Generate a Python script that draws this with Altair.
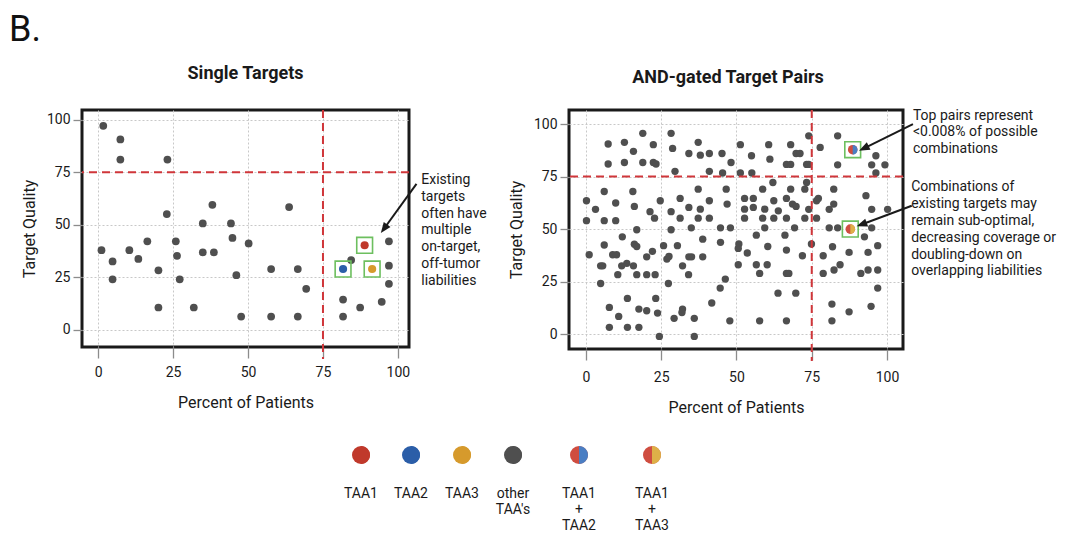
import math
import altair as alt
import pandas as pd

# ---------------- data ----------------
left_x = [1.7, 7.4, 7.4, 23.1, 1.1, 4.8, 4.8, 10.4, 13.4, 16.4, 20.1, 20.1, 22.9, 25.9,
          26.3, 27.2, 31.9, 34.9, 34.9, 38.1, 38.6, 44.3, 44.8, 46.1, 47.7, 50.2, 57.7,
          57.7, 63.7, 66.6, 66.6, 69.4, 81.7, 81.7, 84.4, 87.4, 94.6, 97.0, 97.0, 97.0]
left_y = [97.1, 90.6, 81.0, 81.0, 37.9, 32.5, 24.0, 37.9, 33.7, 42.1, 28.3, 10.6, 55.1, 42.1,
          35.2, 24.0, 10.6, 50.6, 36.8, 59.5, 36.8, 50.6, 43.7, 26.0, 6.3, 41.1, 28.9,
          6.3, 58.4, 28.9, 6.3, 19.5, 14.4, 6.3, 33.2, 10.6, 13.3, 42.1, 30.5, 21.9]

single_names = ["TAA1", "TAA2", "TAA3"]
single_x = [88.9, 81.7, 91.4]
single_y = [40.2, 28.9, 28.9]

right_x = [
    # quality above 75
    7.4, 7.4, 12.8, 12.8, 15.8, 18.9, 18.9, 22.4, 22.4, 23.3, 28.3, 28.8, 29.6, 34.2, 37.3,
    38.0, 41.0, 41.0, 45.2, 45.4, 48.2, 51.3, 51.3, 55.0, 55.1, 60.7, 61.1, 66.6, 68.0, 68.0,
    69.8, 71.1, 73.3, 74.0, 74.0, 77.8, 83.6, 83.6, 94.9, 96.3, 96.3, 99.3,
    # quality 50-75
    0.2, 0.2, 3.2, 6.1, 6.1, 9.9, 9.9, 15.6, 16.1, 16.9, 21.3, 22.8, 24.7, 28.3, 28.3, 31.3,
    31.3, 34.2, 35.0, 37.3, 38.0, 37.3, 41.0, 41.0, 44.7, 46.6, 46.9, 48.0, 52.7, 52.7, 52.7,
    55.6, 55.6, 58.7, 58.7, 59.4, 59.4, 62.1, 62.4, 62.4, 63.9, 66.6, 66.6, 68.0, 68.6, 69.8,
    69.3, 72.7, 73.3, 74.0, 72.7, 76.6, 77.2, 76.6, 82.3, 82.3, 80.8, 80.8, 83.6, 93.0, 94.9,
    94.9, 100.2,
    # quality 20-50
    6.1, 1.1, 4.9, 5.6, 4.9, 8.9, 10.2, 10.6, 11.9, 13.6, 15.8, 12.1, 16.1, 16.9, 16.9, 20.2,
    22.1, 20.2, 23.0, 25.8, 26.9, 27.6, 27.4, 30.4, 32.1, 34.1, 34.2, 35.1, 38.8, 38.8, 44.7,
    46.3, 44.6, 50.8, 50.6, 50.6, 53.6, 56.6, 56.6, 57.7, 60.4, 60.2, 66.1, 66.6, 66.6, 67.4,
    71.9, 74.9, 78.8, 78.8, 81.9, 82.4, 84.4, 87.4, 91.3, 92.5, 93.7, 93.7, 96.9, 96.9, 96.9,
    # quality below 20
    13.8, 7.8, 10.9, 7.8, 13.8, 17.6, 20.2, 17.6, 23.2, 23.8, 24.4, 29.3, 32.1, 31.9, 36.0,
    36.0, 41.8, 47.8, 57.7, 63.8, 66.6, 69.7, 81.7, 81.7, 87.4, 94.7,
]
right_y = [
    90.5, 81.0, 91.3, 81.7, 87.0, 95.6, 81.7, 90.2, 81.7, 81.0, 95.6, 88.4, 77.5, 86.0, 91.3,
    85.2, 86.0, 77.5, 86.0, 76.7, 81.7, 90.2, 76.7, 84.9, 76.7, 90.2, 83.3, 80.8, 80.8, 90.2,
    86.0, 86.0, 80.8, 94.4, 80.8, 88.9, 94.4, 80.6, 80.6, 84.9, 76.7, 80.6,
    63.5, 54.0, 59.4, 67.9, 54.0, 62.4, 54.0, 67.9, 60.8, 49.7, 58.3, 55.2, 63.5, 58.3, 49.7, 64.6,
    55.2, 60.3, 50.6, 69.0, 59.5, 55.2, 63.5, 55.2, 50.6, 69.0, 61.9, 50.6, 64.6, 59.5, 55.2,
    64.6, 60.3, 69.0, 55.2, 59.5, 50.6, 72.2, 63.5, 55.2, 58.7, 64.6, 55.2, 69.0, 61.9, 60.8,
    50.6, 69.0, 72.2, 59.4, 55.2, 63.5, 64.6, 55.2, 69.0, 61.9, 59.4, 50.6, 50.6, 65.9, 59.4,
    50.6, 59.4,
    42.4, 37.8, 32.5, 32.5, 24.1, 37.8, 37.8, 28.3, 32.5, 33.7, 32.5, 46.3, 42.8, 41.7, 28.3, 36.8,
    39.4, 28.3, 28.3, 42.1, 35.7, 37.0, 24.1, 42.1, 32.5, 28.3, 36.8, 36.8, 45.2, 36.8, 43.7,
    26.2, 21.9, 42.9, 40.8, 33.0, 38.6, 47.1, 33.0, 28.9, 41.7, 33.0, 47.1, 40.0, 28.9, 28.9,
    37.3, 42.9, 37.3, 28.9, 41.6, 30.5, 33.0, 38.9, 28.9, 46.3, 38.9, 30.5, 42.1, 30.5, 21.9,
    17.0, 12.7, 8.4, 3.2, 3.2, 11.9, 11.1, 3.2, 17.0, 10.0, -1.1, 7.5, 11.9, 10.3, 7.5,
    -1.1, 14.8, 6.3, 6.3, 19.5, 6.3, 19.5, 14.3, 6.3, 10.6, 13.2,
]

pair_names = ["TAA1 + TAA2", "TAA1 + TAA3"]
pair_x = [88.6, 87.8]
pair_y = [87.8, 50.0]

legend_labels = ["TAA1", "TAA2", "TAA3", "other\nTAA's", "TAA1\n+\nTAA2", "TAA1\n+\nTAA3"]

THRESHOLD = 75
TICKS = [0, 25, 50, 75, 100]

# ---------------- style ----------------
FONT = "Roboto"
INK = "#1a1a1a"
DOT = "#4f4f4f"
RED_LINE = "#d0363a"
GREEN = "#6dbf5f"
C_TAA1, C_TAA2, C_TAA3 = "#c0392b", "#2b5ea8", "#d69a2c"
C_HALF_RED, C_HALF_BLUE, C_HALF_GOLD = "#cf4d40", "#4a7ec3", "#deb048"
RIGHT_HALF = "M0,-1 A1,1 0 0,1 0,1 Z"
ARROW_HEAD = "M0,0 L0.62,1.6 L-0.62,1.6 Z"

legend_left = [C_TAA1, C_TAA2, C_TAA3, DOT, C_HALF_RED, C_HALF_RED]
legend_right = [C_TAA1, C_TAA2, C_TAA3, DOT, C_HALF_BLUE, C_HALF_GOLD]
legend_slot = [279, 329, 380, 431, 497, 570]


def axis(title, tick_size, label_pad, title_pad):
    return alt.Axis(values=TICKS, title=title, grid=True, gridColor="#c8c8c8",
                    gridDash=[2, 2], gridWidth=1, domain=False, tickColor="#8c8c8c",
                    tickSize=tick_size, tickWidth=1.3, labelFont=FONT, labelFontSize=14,
                    labelColor=INK, labelPadding=label_pad, titleFont=FONT,
                    titleFontSize=16, titleFontWeight="normal", titleColor=INK,
                    titlePadding=title_pad)


def panel(px, py, hx, hy, hcol, pair, xdom, ydom, w, h, title, title_dx, title_dy,
          dot_size, xlab_pad, notes, arrows):
    xs = alt.Scale(domain=xdom, nice=False, zero=False)
    ys = alt.Scale(domain=ydom, nice=False, zero=False)
    X = alt.X("x:Q", scale=xs, axis=axis("Percent of Patients", 11, xlab_pad, 15))
    Y = alt.Y("y:Q", scale=ys, axis=axis("Target Quality", 9, 3, 9))
    ppx = w / (xdom[1] - xdom[0])
    ppy = h / (ydom[1] - ydom[0])

    dots = alt.Chart(pd.DataFrame({"x": px, "y": py})).mark_circle(
        size=dot_size, color=DOT, opacity=1).encode(x=X, y=Y)

    vline = alt.Chart(pd.DataFrame({"x": [THRESHOLD], "y": [ydom[1]],
                                    "y2": [ydom[0] - 12 / ppy]})).mark_rule(
        color=RED_LINE, strokeDash=[8, 5], strokeWidth=2, clip=False).encode(
        x="x:Q", y="y:Q", y2="y2:Q")
    hline = alt.Chart(pd.DataFrame({"y": [THRESHOLD]})).mark_rule(
        color=RED_LINE, strokeDash=[8, 5], strokeWidth=2).encode(y="y:Q")

    hdf = pd.DataFrame({"x": hx, "y": hy, "c": hcol})
    boxes = alt.Chart(hdf).mark_point(shape="square", filled=False, color=GREEN,
                                      size=250, strokeWidth=1.6, opacity=1).encode(
        x="x:Q", y="y:Q")
    if pair:
        hdf["l"] = [C_HALF_RED] * len(hx)
        marks = [
            alt.Chart(hdf).mark_point(shape="circle", filled=True, size=92, opacity=1,
                                      strokeWidth=0).encode(
                x="x:Q", y="y:Q", color=alt.Color("l:N", scale=None)),
            alt.Chart(hdf).mark_point(shape=RIGHT_HALF, filled=True, size=92, opacity=1,
                                      strokeWidth=0).encode(
                x="x:Q", y="y:Q", color=alt.Color("c:N", scale=None)),
        ]
    else:
        marks = [alt.Chart(hdf).mark_circle(size=dot_size + 6, opacity=1).encode(
            x="x:Q", y="y:Q", color=alt.Color("c:N", scale=None))]

    ndf = pd.DataFrame(notes, columns=["x", "y", "t"])
    text = alt.Chart(ndf).mark_text(align="left", baseline="top", lineBreak="\n",
                                    font=FONT, fontSize=14, lineHeight=16.8,
                                    color=INK).encode(x="x:Q", y="y:Q", text="t:N")

    rows = []
    for (sx, sy, tx, ty) in arrows:
        dxp = (tx - sx) * ppx
        dyp = -(ty - sy) * ppy
        ln = math.hypot(dxp, dyp)
        ang = math.degrees(math.atan2(dxp, -dyp)) % 360
        ex = tx - dxp / ln * 6 / ppx
        ey = ty + dyp / ln * 6 / ppy
        rows.append({"x": sx, "y": sy, "x2": ex, "y2": ey, "tx": tx, "ty": ty, "a": ang})
    adf = pd.DataFrame(rows)
    arrow_lines = alt.Chart(adf).mark_rule(color=INK, strokeWidth=2, clip=False).encode(
        x="x:Q", y="y:Q", x2="x2:Q", y2="y2:Q")
    arrow_heads = alt.Chart(adf).mark_point(shape=ARROW_HEAD, filled=True, size=180,
                                            color=INK, opacity=1, strokeWidth=0).encode(
        x="tx:Q", y="ty:Q", angle=alt.Angle("a:Q", scale=None))

    return alt.layer(dots, hline, vline, boxes, *marks, arrow_lines, arrow_heads, text
                     ).properties(
        width=w, height=h,
        title=alt.TitleParams(title, font=FONT, fontSize=18, fontWeight="bold",
                              color=INK, anchor="middle", frame="group", offset=26,
                              dx=title_dx, dy=title_dy),
        view=alt.ViewBackground(stroke=INK, strokeWidth=3, fill="white"))


left = panel(left_x, left_y, single_x, single_y, [C_TAA1, C_TAA2, C_TAA3], False,
             [-5.4, 103.7], [-8.2, 104.6], 327, 237, "Single Targets", 0, 0, 60, 7,
             [(107.8, 74.6, "Existing\ntargets\noften have\nmultiple\non-target,\noff-tumor\nliabilities")],
             [(106.2, 69.4, 94.3, 46.0)])

right = panel(right_x, right_y, pair_x, pair_y, [C_HALF_BLUE, C_HALF_GOLD], True,
              [-5.6, 105.3], [-7.1, 106.7], 334, 239, "AND-gated Target Pairs", -8, 4, 54, 10,
              [(108.6, 107.4, "Top pairs represent\n<0.008% of possible\ncombinations"),
               (108.0, 73.2, "Combinations of\nexisting targets may\nremain sub-optimal,\ndecreasing coverage or\ndoubling-down on\noverlapping liabilities")],
              [(108.6, 100.0, 90.7, 87.3), (108.2, 61.1, 89.9, 51.3)])

# ---------------- legend ----------------
ldf = pd.DataFrame({"x": legend_slot, "lab": legend_labels, "l": legend_left,
                    "r": legend_right})
LX = alt.X("x:Q", scale=alt.Scale(domain=[0, 620], nice=False, zero=False), axis=None)
LY = alt.Y("y:Q", scale=alt.Scale(domain=[0, 100], reverse=True, nice=False), axis=None)
ldf["y"] = 16
ldf["ty"] = 48
leg_full = alt.Chart(ldf).mark_point(shape="circle", filled=True, size=324, opacity=1,
                                     strokeWidth=0).encode(
    x=LX, y=LY, color=alt.Color("l:N", scale=None))
leg_half = alt.Chart(ldf).mark_point(shape=RIGHT_HALF, filled=True, size=324, opacity=1,
                                     strokeWidth=0).encode(
    x="x:Q", y="y:Q", color=alt.Color("r:N", scale=None))
leg_text = alt.Chart(ldf).mark_text(baseline="top", align="center", lineBreak="\n",
                                    font=FONT, fontSize=14, lineHeight=16,
                                    color=INK).encode(x="x:Q", y="ty:Q", text="lab:N")
legend = alt.layer(leg_full, leg_half, leg_text).properties(
    width=620, height=100,
    view=alt.ViewBackground(strokeWidth=0))

top = alt.hconcat(left, right, spacing=160, bounds="flush")
chart = alt.vconcat(top, legend, spacing=329, bounds="flush").properties(
    title=alt.TitleParams("B.", font=FONT, fontSize=36, fontWeight="normal", color="#111111",
                          anchor="start", frame="group", dx=-73, offset=15),
    padding={"left": 1, "top": 3, "right": 5, "bottom": 5},
    background="white",
).configure_view(strokeWidth=0)

chart.save("out.html", embed_options={"renderer": "svg", "actions": False})
